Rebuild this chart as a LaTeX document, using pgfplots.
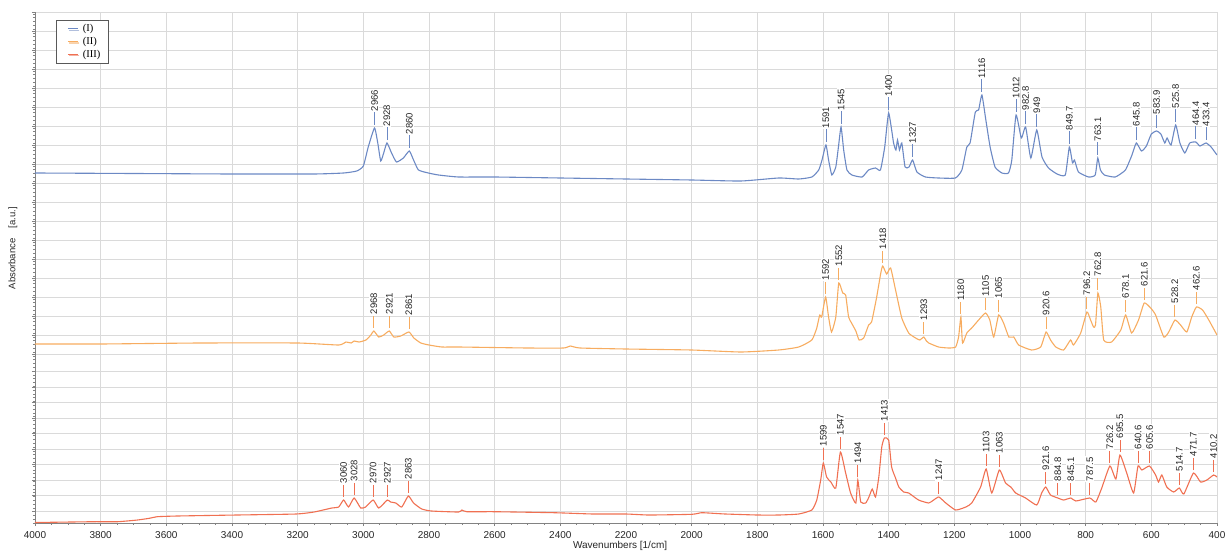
\documentclass[border=0pt]{standalone}
\usepackage{fontspec}
\setmainfont{Liberation Sans}
\newfontfamily\legfont{Liberation Serif}
\usepackage{pgfplots}
\pgfplotsset{compat=1.18}
\usetikzlibrary{shadows}
\definecolor{cI}{RGB}{108,137,196}
\definecolor{cII}{RGB}{247,172,96}
\definecolor{cIII}{RGB}{240,112,82}
\definecolor{gridc}{RGB}{218,218,218}
\definecolor{axc}{RGB}{130,130,130}
\newcommand{\pk}[4]{\draw[#4, line width=0.9pt] ([yshift=3pt]axis cs:#1,#2) -- ([yshift=15.5pt]axis cs:#1,#2)
  node[rotate=90, anchor=west, inner sep=1pt, fill=white, text=black!85, font=\fontsize{9.5}{10}\selectfont]{#3};}
\begin{document}
\begin{tikzpicture}
\begin{axis}[
  scale only axis, width=1182pt, height=511pt,
  xmin=400, xmax=4000, x dir=reverse, ymin=0, ymax=511,
  axis x line*=bottom, axis y line*=left,
  axis line style={axc, line width=0.8pt},
  xtick={400,600,...,4000}, minor x tick num=3,
  ytick={12,27.5,43,58.5,74,89.5,105,120.5,136,151.5,169,188,207,226,245,264,283,302,321,340,359,378,397,416,435,454,473,492,511},
  yticklabels={},
  minor ytick={0,3.8,...,509},
  grid=major, major grid style={draw=gridc, line width=0.6pt},
  tick align=outside, major tick length=3pt, minor tick length=2pt,
  tick style={axc, line width=0.5pt},
  /pgf/number format/assume math mode=true,
  /pgf/number format/1000 sep={},
  xticklabel style={font=\fontsize{10}{12}\selectfont, text=black!85, yshift=-2pt},
  xlabel={Wavenumbers [1/cm]},
  xlabel style={at={(rel axis cs:0.495,0)}, anchor=center, yshift=-23pt, font=\fontsize{10}{12}\selectfont, text=black!85},
  ylabel={Absorbance\hspace{1.1em}[a.u.]},
  ylabel style={at={(rel axis cs:-0.0186,0.538)}, anchor=center, font=\fontsize{9.5}{12}\selectfont, text=black!85},
  legend style={at={(rel axis cs:0.0178,0.984)}, anchor=north west, draw=black!65, fill=white,
    font=\legfont\fontsize{10.5}{12}\selectfont, inner xsep=3pt, inner ysep=2pt,
    drop shadow={shadow xshift=1.5pt, shadow yshift=-1.5pt, fill=black!45},
    legend cell align=left, row sep=0pt,
    nodes={inner xsep=4.5pt}},
  legend image code/.code={\path(0pt,0pt);\draw[#1, line width=1pt](8pt,0pt)--(18pt,0pt);},
]
\addplot[cI, line width=1.1pt, no markers, smooth, tension=0.3] coordinates {
(4000,350)(3700,349.5)(3400,349)(3150,349)(3060,350)(3020,352)(3000,357)(2985,376)(2966,395)(2956,380)(2947,362)(2938,370)(2928,380)(2914,370)(2899,361)(2878,365)(2860,372)(2847,363)(2832,353)(2802,350)(2771,348)(2710,346)(2600,346)(2400,345)(2200,344)(2000,343)(1850,342)(1735,345)(1674,344)(1634,346)(1613,353)(1603,363)(1591,378)(1583,363)(1573,348)(1561,356)(1553,376)(1545,396)(1537,373)(1527,353)(1512,348)(1481,346)(1461,353)(1440,355)(1425,353)(1412,376)(1400,410)(1385,380)(1378,373)(1373,383)(1367,373)(1360,380)(1350,356)(1338,356)(1327,363)(1314,351)(1288,346)(1248,345)(1197,345)(1177,353)(1162,376)(1152,380)(1136,411)(1126,413)(1116,428)(1104,403)(1091,376)(1076,356)(1055,350)(1035,350)(1025,363)(1012,408)(996,385)(982.8,396)(967,365)(949,393)(933,366)(913,355)(887,349)(862,348)(849.7,376)(840,360)(834,363)(822,351)(791,346)(771,348)(763.1,365)(755,353)(743,348)(710,346)(679,353)(659,368)(645.8,380)(630,372)(615,377)(600,389)(583.9,392)(571,389)(559,380)(552,385)(540,378)(525.8,398)(513,380)(498,370)(483,380)(464.4,381)(452,377)(433.4,380)(418,376)(400,368)
};
\addlegendentry{(I)}
\addplot[cII, line width=1.1pt, no markers, smooth, tension=0.3] coordinates {
(4000,179)(3800,179)(3500,180)(3200,180)(3075,178)(3053,181)(3037,180)(3028,182)(3013,181)(2992,183)(2977,188)(2968,192)(2953,186)(2938,188)(2921,192)(2907,186)(2886,187)(2861,191)(2846,185)(2825,180)(2800,178)(2761,176)(2709,176)(2500,175)(2390,175)(2370,177)(2340,175)(2200,174)(2000,173)(1850,171)(1735,173)(1674,176)(1634,183)(1619,195)(1610,208)(1604,206)(1592,226)(1583,206)(1574,191)(1561,206)(1552,240)(1540,230)(1531,228)(1522,206)(1513,200)(1500,192)(1490,183)(1476,185)(1461,198)(1452,201)(1437,225)(1424,250)(1418,257)(1406,249)(1394,255)(1379,233)(1360,205)(1339,190)(1318,185)(1305,183)(1293,186)(1285,182)(1278,180)(1248,176)(1217,175)(1196,176)(1187,186)(1180,206)(1175,180)(1162,190)(1147,195)(1126,203)(1105,210)(1092,203)(1080,186)(1065,208)(1050,200)(1034,186)(1019,186)(1004,178)(965,173)(937,176)(920.6,191)(907,183)(891,176)(867,173)(846,183)(837,178)(815,190)(796.2,211)(785,203)(776,196)(770,198)(762.8,230)(754,216)(745,183)(721,181)(693,193)(678.1,208)(660,190)(639,203)(621.6,220)(602,215)(587,208)(562,186)(547,191)(528.2,203)(511,198)(492,191)(477,206)(462.6,216)(444,213)(425,203)(400,188)
};
\addlegendentry{(II)}
\addplot[cIII, line width=1.1pt, no markers, smooth, tension=0.3] coordinates {
(4000,0.5)(3821,1.3)(3748,1.3)(3688,3)(3652,4.7)(3628,6.3)(3567,7)(3386,8)(3205,9)(3150,11)(3096,15)(3075,16)(3060,23)(3045,16)(3028,25)(3008,15)(2993,16)(2970,23)(2953,15)(2927,23)(2917,21)(2901,20)(2883,16)(2863,27)(2847,20)(2822,14)(2792,12)(2710,11)(2700,13)(2685,11.3)(2600,11.3)(2419,10.3)(2300,9)(2200,9)(2130,8)(2000,8.7)(1970,10.3)(1934,9.7)(1897,9)(1800,8)(1735,8)(1674,9)(1634,13)(1619,23)(1607,43)(1599,60)(1589,46)(1576,41)(1561,35)(1547,71)(1531,50)(1516,30)(1500,20)(1494,43)(1485,21)(1470,20)(1460,26)(1450,34)(1440,26)(1430,46)(1421,76)(1413,85)(1400,83)(1391,56)(1379,45)(1369,36)(1354,31)(1339,30)(1309,23)(1278,20)(1263,23)(1247,26)(1226,20)(1196,13)(1165,16)(1147,20)(1120,36)(1103,54)(1086,30)(1063,53)(1044,40)(1028,36)(1013,30)(983,25)(949,18)(934,30)(921.6,36)(907,28)(884.8,25)(867,23)(845.1,25)(830,22)(787.5,25)(769,21)(751,35)(726.2,57)(708,44)(695.5,68)(675,50)(654,30)(640.6,57)(629,53)(605.6,57)(587,48)(578,41)(568,48)(553,36)(532,31)(514.7,35)(501,29)(471.7,50)(450,41)(431,43)(410.2,48)(400,46)
};
\addlegendentry{(III)}
% peak labels (I)
\pk{2966}{395}{2966}{cI}
\pk{2928}{380}{2928}{cI}
\pk{2860}{372}{2860}{cI}
\pk{1591}{378}{1591}{cI}
\pk{1545}{396}{1545}{cI}
\pk{1400}{410}{1400}{cI}
\pk{1327}{363}{1327}{cI}
\pk{1116}{428}{1116}{cI}
\pk{1012}{408}{1012}{cI}
\pk{982.8}{396}{982.8}{cI}
\pk{949}{393}{949}{cI}
\pk{849.7}{376}{849.7}{cI}
\pk{763.1}{365}{763.1}{cI}
\pk{645.8}{380}{645.8}{cI}
\pk{583.9}{392}{583.9}{cI}
\pk{525.8}{398}{525.8}{cI}
\pk{464.4}{381}{464.4}{cI}
\pk{433.4}{380}{433.4}{cI}
% peak labels (II)
\pk{2968}{192}{2968}{cII}
\pk{2921}{192}{2921}{cII}
\pk{2861}{191}{2861}{cII}
\pk{1592}{226}{1592}{cII}
\pk{1552}{240}{1552}{cII}
\pk{1418}{257}{1418}{cII}
\pk{1293}{186}{1293}{cII}
\pk{1180}{206}{1180}{cII}
\pk{1105}{210}{1105}{cII}
\pk{1065}{208}{1065}{cII}
\pk{920.6}{191}{920.6}{cII}
\pk{796.2}{211}{796.2}{cII}
\pk{762.8}{230}{762.8}{cII}
\pk{678.1}{208}{678.1}{cII}
\pk{621.6}{220}{621.6}{cII}
\pk{528.2}{203}{528.2}{cII}
\pk{462.6}{216}{462.6}{cII}
% peak labels (III)
\pk{3060}{23}{3060}{cIII}
\pk{3028}{25}{3028}{cIII}
\pk{2970}{23}{2970}{cIII}
\pk{2927}{23}{2927}{cIII}
\pk{2863}{27}{2863}{cIII}
\pk{1599}{60}{1599}{cIII}
\pk{1547}{71}{1547}{cIII}
\pk{1494}{43}{1494}{cIII}
\pk{1413}{85}{1413}{cIII}
\pk{1247}{26}{1247}{cIII}
\pk{1103}{54}{1103}{cIII}
\pk{1063}{53}{1063}{cIII}
\pk{921.6}{36}{921.6}{cIII}
\pk{884.8}{25}{884.8}{cIII}
\pk{845.1}{25}{845.1}{cIII}
\pk{787.5}{25}{787.5}{cIII}
\pk{726.2}{57}{726.2}{cIII}
\pk{695.5}{68}{695.5}{cIII}
\pk{640.6}{57}{640.6}{cIII}
\pk{605.6}{57}{605.6}{cIII}
\pk{514.7}{35}{514.7}{cIII}
\pk{471.7}{50}{471.7}{cIII}
\pk{410.2}{48}{410.2}{cIII}
\end{axis}
\pgfresetboundingbox
\path[use as bounding box] ([xshift=-35pt,yshift=-30pt]current axis.south west) rectangle ([xshift=12pt,yshift=12pt]current axis.north east);
\end{tikzpicture}
\end{document}
